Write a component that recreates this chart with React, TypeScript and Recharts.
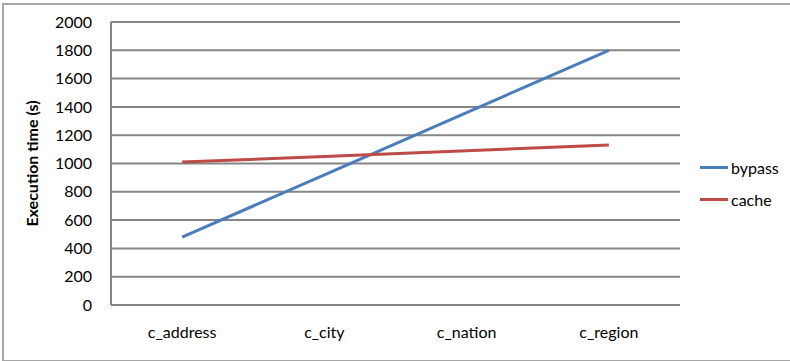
import React from "react";
import { CartesianGrid, Legend, Line, LineChart, XAxis, YAxis } from "recharts";

const columns = ["c_address", "c_city", "c_nation", "c_region"];
const bypassTimes = [480, 920, 1360, 1800];
const cacheTimes = [1010, 1050, 1090, 1130];
const yTicks = [0, 200, 400, 600, 800, 1000, 1200, 1400, 1600, 1800, 2000];

const rows = columns.map((column, i) => ({
	column,
	bypass: bypassTimes[i],
	cache: cacheTimes[i],
}));

const FONT = "Lato, 'Liberation Sans', sans-serif";
const GRID = "#868686";

function LegendBox({ payload }: any) {
	return (
		<div style={{ paddingLeft: 20, fontFamily: FONT, fontSize: 16, color: "#000" }}>
			{(payload || []).map((entry: any) => (
				<div
					key={entry.value}
					style={{ display: "flex", alignItems: "center", height: 32 }}
				>
					<span
						style={{
							display: "inline-block",
							width: 28,
							height: 3,
							background: entry.color,
							marginRight: 3,
						}}
					/>
					<span>{entry.value}</span>
				</div>
			))}
		</div>
	);
}

export default function App() {
	return (
		<div
			style={{
				position: "absolute",
				left: 0,
				top: 0,
				width: 790,
				height: 361,
				background: "#fff",
				overflow: "hidden",
			}}
		>
			<div
				style={{
					position: "absolute",
					left: 2,
					top: 3,
					width: 800,
					height: 355,
					border: "2px solid #a6a6a6",
				}}
			/>
			<LineChart
				width={790}
				height={361}
				data={rows}
				margin={{ top: 22, right: 0, left: 0, bottom: 0 }}
				style={{ position: "absolute", left: 0, top: 0 }}
			>
				<CartesianGrid vertical={false} stroke={GRID} strokeWidth={2} />
				<XAxis
					dataKey="column"
					scale="band"
					height={56}
					axisLine={{ stroke: GRID, strokeWidth: 2 }}
					tickLine={false}
					tickSize={0}
					tickMargin={22}
					tick={{ fill: "#000", fontSize: 16, fontFamily: FONT }}
				/>
				<YAxis
					width={111}
					domain={[0, 2000]}
					ticks={yTicks}
					interval={0}
					axisLine={{ stroke: GRID, strokeWidth: 2 }}
					tickLine={false}
					tickSize={0}
					tickMargin={19}
					tick={{ fill: "#000", fontSize: 16, fontFamily: FONT }}
					label={{
						value: "Execution time (s)",
						angle: -90,
						position: "insideLeft",
						offset: 32,
						style: {
							textAnchor: "middle",
							fontFamily: FONT,
							fontSize: 16,
							fontWeight: "bold",
							fill: "#000",
						},
					}}
				/>
				<Legend
					layout="vertical"
					align="right"
					verticalAlign="middle"
					content={<LegendBox />}
					wrapperStyle={{ width: 110, top: 151, boxSizing: "border-box" }}
				/>
				<Line
					dataKey="bypass"
					stroke="#4a7ebb"
					strokeWidth={3}
					dot={false}
					isAnimationActive={false}
				/>
				<Line
					dataKey="cache"
					stroke="#be4b48"
					strokeWidth={3}
					dot={false}
					isAnimationActive={false}
				/>
			</LineChart>
		</div>
	);
}
